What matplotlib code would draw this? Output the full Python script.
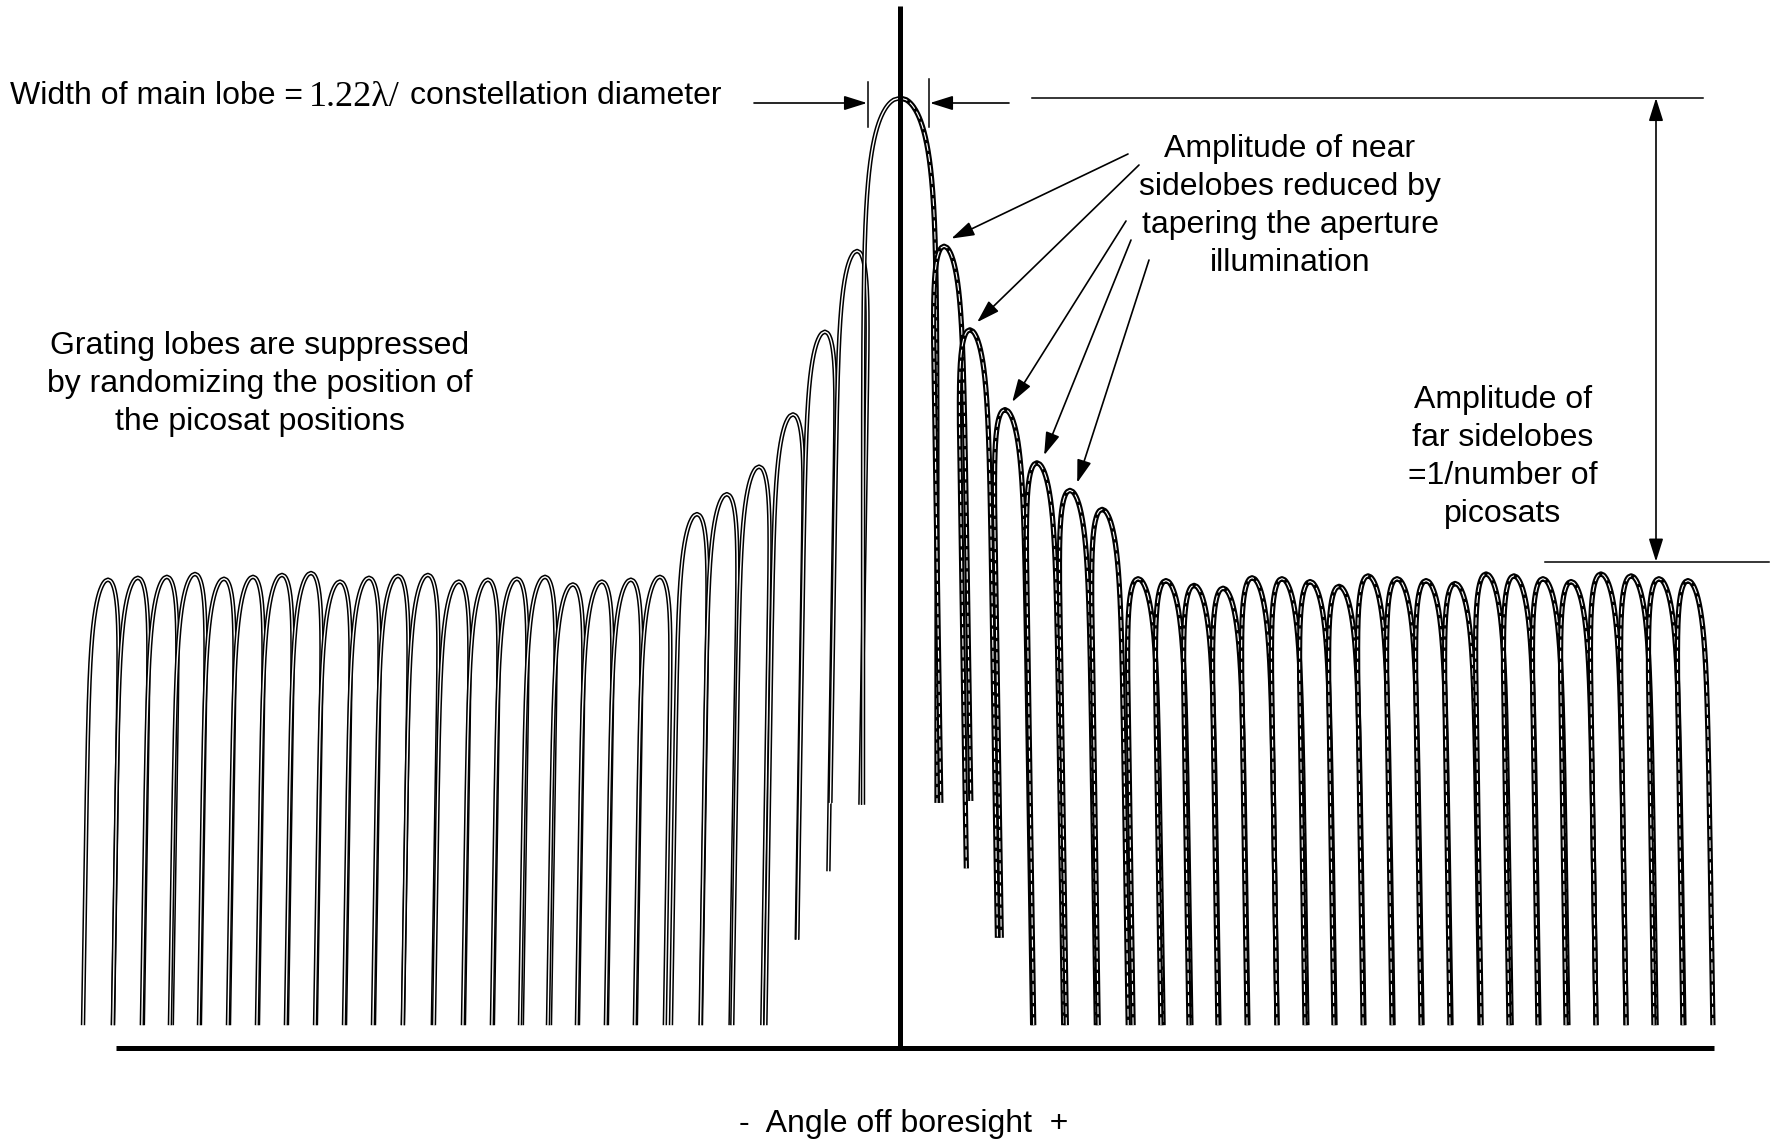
import numpy as np
import matplotlib
matplotlib.use('Agg')
from matplotlib import pyplot as plt

plt.rcParams['font.family'] = ['Liberation Sans', 'DejaVu Sans']

# angle off boresight (one unit = one far-sidelobe spacing), amplitude normalised to main lobe
far_left_angle = [-27.31, -26.28, -25.28, -24.31, -23.31, -22.31, -21.31, -20.31, -19.31, -18.31,
                  -17.31, -16.28, -15.21, -14.21, -13.21, -12.24, -11.28, -10.28, -9.28, -8.28]
far_left_amp = [0.493, 0.495, 0.496, 0.499, 0.494, 0.496, 0.498, 0.500, 0.491, 0.495,
                0.497, 0.498, 0.491, 0.493, 0.494, 0.496, 0.488, 0.491, 0.493, 0.496]

near_angle = [-7.00, -5.97, -4.86, -3.69, -2.59, -1.48, 0.0, 1.52, 2.41, 3.62, 4.72, 5.86, 6.97]
near_amp = [0.562, 0.583, 0.612, 0.667, 0.754, 0.839, 1.0, 0.844, 0.756, 0.672, 0.616, 0.587, 0.567]
near_foot_left = [0.024, 0.024, 0.024, 0.024, 0.114, 0.258, 0.256, 0.258, 0.189, 0.116, 0.024, 0.024, 0.024]
near_foot_right = [0.024, 0.024, 0.024, 0.114, 0.186, 0.256, 0.258, 0.260, 0.116, 0.024, 0.024, 0.024, 0.024]

far_right_angle = [8.21, 9.17, 10.14, 11.14, 12.14, 13.17, 14.14, 15.14, 16.14, 17.14,
                   18.14, 19.14, 20.21, 21.17, 22.17, 23.14, 24.17, 25.21, 26.17, 27.17]
far_right_amp = [0.494, 0.492, 0.487, 0.484, 0.495, 0.494, 0.491, 0.486, 0.497, 0.494,
                 0.492, 0.489, 0.499, 0.497, 0.494, 0.491, 0.499, 0.497, 0.494, 0.492]

floor_amp = 0.024          # where the far lobes are cut off
far_level = 0.512          # 1/number of picosats reference line

# pixel <-> data helpers (figure is 1772 x 1143 px)
XU, YU, X0, Y0 = 29.0, 950.0, 900.0, 1048.0


def px(x, y):
    return ((x - X0) / XU, (Y0 - y) / YU)


# lobe outline: rounded top, legs leaning away from boresight
H_SIDE, K_SIDE = 15.0 / XU, 40.0 / YU
S1, KS, S2 = 3.0 / XU, 60.0 / YU, 0.0157 * YU / XU
H_MAIN, K_MAIN = 37.0 / XU, 62.0 / YU


def lobe(c, a, fl, fr, side):
    dl = np.linspace(0, a - fl, 400)
    dr = np.linspace(0, a - fr, 400)
    if side == 0:
        hl = H_MAIN * np.sqrt(1 - np.exp(-dl / K_MAIN))
        hr = H_MAIN * np.sqrt(1 - np.exp(-dr / K_MAIN))
    else:
        hl = H_SIDE * np.sqrt(1 - np.exp(-dl / K_SIDE))
        hr = H_SIDE * np.sqrt(1 - np.exp(-dr / K_SIDE))
        shl = S1 * (1 - np.exp(-dl / KS)) + S2 * dl
        shr = S1 * (1 - np.exp(-dr / KS)) + S2 * dr
        hl = hl + side * shl
        hr = hr - side * shr
    xl, yl = c - hl[::-1], a - dl[::-1]
    xr, yr = c + hr, a - dr
    return xl, yl, xr, yr


def draw(ax, x, y, bold):
    if bold:
        ax.plot(x, y, color='black', lw=3.8, solid_capstyle='butt', zorder=2)
        ax.plot(x, y, color='white', lw=0.8, dashes=(7, 3), zorder=2)
    else:
        ax.plot(x, y, color='black', lw=3.2, solid_capstyle='butt', zorder=2)
        ax.plot(x, y, color='white', lw=1.0, zorder=2)


fig = plt.figure(figsize=(17.72, 11.43), dpi=100)
ax = fig.add_axes([0, 0, 1, 1])
ax.set_xlim(px(0, 0)[0], px(1772, 0)[0])
ax.set_ylim(px(0, 1143)[1], px(0, 0)[1])
ax.axis('off')

angles = far_left_angle + near_angle + far_right_angle
amps = far_left_amp + near_amp + far_right_amp
feet_l = [floor_amp] * 20 + near_foot_left + [floor_amp] * 20
feet_r = [floor_amp] * 20 + near_foot_right + [floor_amp] * 20

for c, a, fl, fr in zip(angles, amps, feet_l, feet_r):
    side = 0 if c == 0 else -np.sign(c)   # +1 on the minus side
    xl, yl, xr, yr = lobe(c, a, fl, fr, side)
    if c < 0:
        draw(ax, np.r_[xl, xr], np.r_[yl, yr], False)
    elif c > 0:
        draw(ax, np.r_[xl, xr], np.r_[yl, yr], True)
    else:
        draw(ax, xl, yl, False)
        draw(ax, xr, yr, True)

# axes of the sketch
ax.plot([px(116, 0)[0], px(1714, 0)[0]], [0, 0], color='black', lw=3.6, solid_capstyle='butt', zorder=3)
ax.plot([0, 0], [0, px(0, 6)[1]], color='black', lw=3.6, solid_capstyle='butt', zorder=3)

arw = dict(arrowstyle='-|>,head_length=0.7,head_width=0.22', color='black', lw=1.2,
           mutation_scale=20, shrinkA=0, shrinkB=0)
dbl = dict(arrowstyle='<|-|>,head_length=0.7,head_width=0.22', color='black', lw=1.2,
           mutation_scale=20, shrinkA=0, shrinkB=0)

# main lobe width marker
ax.plot(*zip(px(868, 82), px(868, 127)), color='black', lw=1.1)
ax.plot(*zip(px(929, 79), px(929, 127)), color='black', lw=1.1)
ax.annotate('', xy=px(867, 103), xytext=px(754, 103), arrowprops=arw)
ax.annotate('', xy=px(930, 103), xytext=px(1009, 103), arrowprops=arw)

# far sidelobe level marker
ax.plot([px(1032, 0)[0], px(1703, 0)[0]], [1.0, 1.0], color='black', lw=1.1)
ax.plot([px(1545, 0)[0], px(1769, 0)[0]], [far_level, far_level], color='black', lw=1.1)
ax.annotate('', xy=(px(1656, 0)[0], far_level), xytext=(px(1656, 0)[0], 1.0), arrowprops=dbl)

# arrows to the near sidelobes
starts = [(1128, 154), (1139, 165), (1126, 221), (1131, 240), (1149, 260)]
for (sx, sy), c, a in zip(starts, near_angle[7:12], near_amp[7:12]):
    ax.annotate('', xy=(c + 0.25, a + 0.008), xytext=px(sx, sy), arrowprops=arw)

fs = 23
ax.text(*px(10, 96), 'Width of main lobe =', fontsize=fs, ha='left', va='center')
ax.text(*px(309, 97), '1.22\u03bb/', fontsize=26, ha='left', va='center',
        family=['Liberation Serif', 'DejaVu Serif'])
ax.text(*px(410, 96), 'constellation diameter', fontsize=fs, ha='left', va='center')

ax.text(*px(260, 384), 'Grating lobes are suppressed\nby randomizing the position of\nthe picosat positions',
        fontsize=fs, ha='center', va='center', linespacing=1.35)
ax.text(*px(1290, 206), 'Amplitude of near\nsidelobes reduced by\ntapering the aperture\nillumination',
        fontsize=fs, ha='center', va='center', linespacing=1.35)
ax.text(*px(1503, 457), 'Amplitude of\nfar sidelobes\n=1/number of\npicosats',
        fontsize=fs, ha='center', va='center', linespacing=1.35)
ax.text(*px(904, 1124), '-  Angle off boresight  +', fontsize=fs, ha='center', va='center')

fig.savefig('out.png', dpi=100, facecolor='white')
